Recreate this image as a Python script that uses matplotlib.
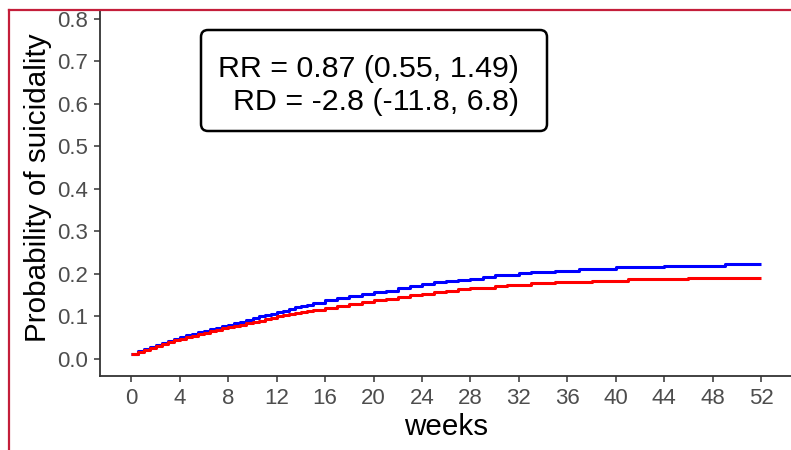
import matplotlib
matplotlib.use("Agg")
import matplotlib.pyplot as plt
from matplotlib.patches import FancyBboxPatch
from matplotlib.lines import Line2D
from matplotlib.transforms import IdentityTransform

plt.rcParams['font.family'] = ['Liberation Sans', 'DejaVu Sans']

# event times (weeks): half-week resolution early, weekly later
times = [0, 0.5, 1, 1.5, 2, 2.5, 3, 3.5, 4, 4.5, 5, 5.5, 6, 6.5, 7, 7.5, 8, 8.5, 9, 9.5,
         10, 10.5, 11, 11.5, 12, 12.5, 13, 13.5, 14, 14.5,
         15, 16, 17, 18, 19, 20, 21, 22, 23, 24, 25, 26, 27, 28, 29, 30, 31, 32, 33, 34,
         35, 36, 37, 38, 39, 40, 41, 42, 43, 44, 45, 46, 47, 48, 49, 50, 51, 52]
blue_prob = [0.012, 0.018, 0.024, 0.028, 0.032, 0.037, 0.042, 0.046, 0.051, 0.056,
             0.059, 0.063, 0.067, 0.071, 0.074, 0.077, 0.080, 0.084, 0.087, 0.091,
             0.096, 0.102, 0.104, 0.107, 0.110, 0.114, 0.118, 0.122, 0.125, 0.128,
             0.132, 0.138, 0.143, 0.148, 0.153, 0.157, 0.161, 0.166, 0.171, 0.176,
             0.180, 0.184, 0.185, 0.188, 0.192, 0.197, 0.198, 0.202, 0.205, 0.205,
             0.208, 0.208, 0.212, 0.212, 0.212, 0.216, 0.216, 0.216, 0.216, 0.219,
             0.219, 0.219, 0.219, 0.219, 0.223, 0.223, 0.223, 0.223]
red_prob = [0.012, 0.017, 0.022, 0.027, 0.031, 0.036, 0.040, 0.044, 0.047, 0.051,
            0.054, 0.058, 0.061, 0.065, 0.068, 0.072, 0.075, 0.078, 0.081, 0.084,
            0.087, 0.090, 0.093, 0.097, 0.100, 0.103, 0.105, 0.108, 0.110, 0.113,
            0.115, 0.120, 0.125, 0.130, 0.134, 0.138, 0.142, 0.146, 0.150, 0.154,
            0.157, 0.161, 0.164, 0.167, 0.168, 0.171, 0.174, 0.175, 0.178, 0.178,
            0.181, 0.181, 0.181, 0.184, 0.184, 0.184, 0.1875, 0.1875, 0.1875, 0.1875,
            0.1875, 0.191, 0.191, 0.191, 0.191, 0.191, 0.191, 0.191]
x_ticks = list(range(0, 53, 4))
y_ticks = [0.0, 0.1, 0.2, 0.3, 0.4, 0.5, 0.6, 0.7, 0.8]
annotation = "RR = 0.87 (0.55, 1.49)\nRD = -2.8 (-11.8, 6.8)"

W, H = 791, 450
fig = plt.figure(figsize=(W / 100, H / 100), dpi=100)
fig.patch.set_facecolor('white')

left, right, top, bottom = 100, 792.5, 10, 376
ax = fig.add_axes([left / W, (H - bottom) / H, (right - left) / W, (bottom - top) / H])

ax.step(times, blue_prob, where='post', color='#0000FF', lw=2.2, solid_capstyle='butt')
ax.step(times, red_prob, where='post', color='#FF0000', lw=2.2, solid_capstyle='butt')

ax.set_xlim(-2.6, 54.6)
ax.set_ylim(-0.04, 0.821)
ax.set_xticks(x_ticks)
ax.set_xticklabels([str(t) for t in x_ticks])
ax.set_yticks(y_ticks)
ax.set_yticklabels([f"{t:.1f}" for t in y_ticks])

for s in ['top', 'right']:
    ax.spines[s].set_visible(False)
for s in ['left', 'bottom']:
    ax.spines[s].set_color('#333333')
    ax.spines[s].set_linewidth(1.3)
ax.tick_params(axis='both', colors='#333333', length=4.5, width=1.1,
               labelsize=16, labelcolor='#4D4D4D', pad=4)

ax.set_xlabel("weeks", fontsize=21.3, color='black', labelpad=3)
ax.set_ylabel("Probability of suicidality", fontsize=21.3, color='black')
ax.yaxis.set_label_coords(-0.069, 0.515)

# annotation box (pixel coordinates)
box = FancyBboxPatch((201, H - 131), 346, 101,
                     boxstyle="round,pad=0,rounding_size=7",
                     transform=IdentityTransform(), fc='white', ec='black', lw=1.8,
                     zorder=5)
fig.add_artist(box)
fig.text(519 / W, (H - 85.5) / H, annotation, fontsize=21.9, ha='right', va='center',
         multialignment='right', linespacing=1.22, zorder=6)

# red screenshot border
fig.add_artist(Line2D([9 / W, 1.0], [1 - 10 / H, 1 - 10 / H], transform=fig.transFigure,
                      color='#C41E3A', lw=1.6, zorder=10))
fig.add_artist(Line2D([9 / W, 9 / W], [0, 1 - 10 / H], transform=fig.transFigure,
                      color='#C41E3A', lw=1.6, zorder=10))

fig.savefig("out.png", dpi=100, facecolor='white')
